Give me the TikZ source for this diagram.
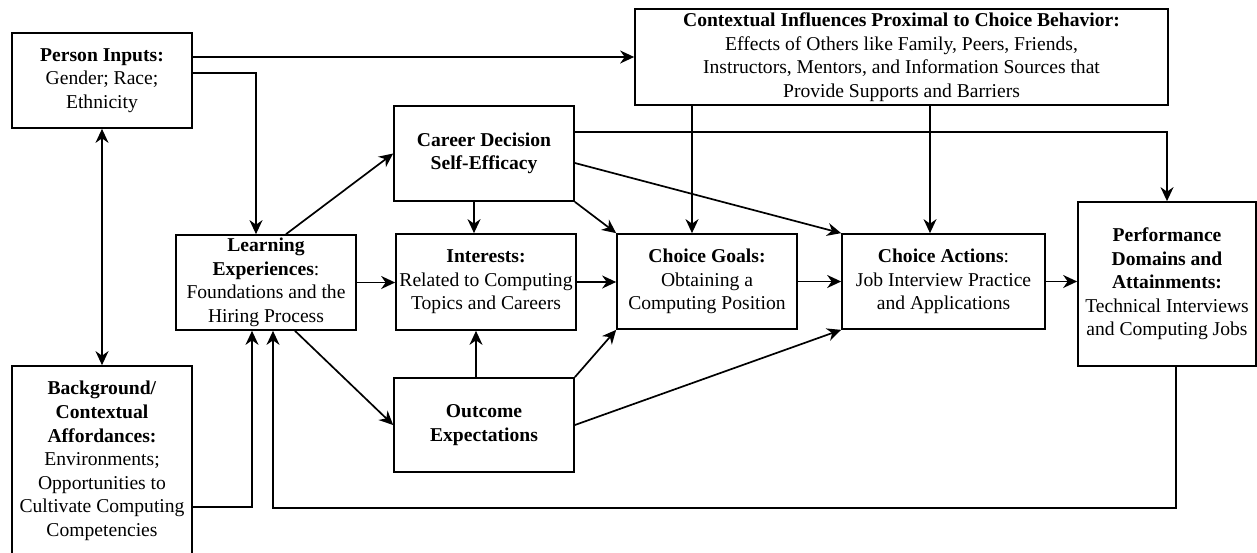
\documentclass[tikz,border=0pt]{standalone}
\usepackage{fontspec}
\setmainfont{Liberation Serif}
\usetikzlibrary{arrows.meta}
\begin{document}
\begin{tikzpicture}[x=1pt,y=-1pt,
  box/.style={draw, line width=1.7pt, rectangle, inner sep=0pt, align=center,
    font=\fontsize{19.6}{23.6}\selectfont},
  tip/.style={Stealth[length=14pt,width=13pt,inset=4.5pt]},
  conn/.style={line width=1.7pt, -{Stealth[length=14pt,width=13pt,inset=4.5pt]}},
  both/.style={line width=1.7pt, {Stealth[length=14pt,width=13pt,inset=4.5pt]}-{Stealth[length=14pt,width=13pt,inset=4.5pt]}}]
\useasboundingbox (0,0) rectangle (1257,552);
\node[box, minimum width=180pt, minimum height=95pt] (person) at (102,80.5)
  {\textbf{Person Inputs:}\\Gender; Race;\\Ethnicity};
\node[box, minimum width=180pt, minimum height=190pt] (background) at (102,461)
  {\textbf{Background/}\\\textbf{Contextual}\\\textbf{Affordances:}\\Environments;\\Opportunities to\\Cultivate Computing\\Competencies};
\node[box, minimum width=180pt, minimum height=95pt] (learn) at (266,282.5)
  {\textbf{Learning}\\\textbf{Experiences}:\\Foundations and the\\Hiring Process};
\node[box, minimum width=180pt, minimum height=95pt] (career) at (484,153.5)
  {\textbf{Career Decision}\\\textbf{Self-Efficacy}};
\node[box, minimum width=533pt, minimum height=96pt] (context) at (901.5,57)
  {\textbf{Contextual Influences Proximal to Choice Behavior:}\\Effects of Others like Family, Peers, Friends,\\Instructors, Mentors, and Information Sources that\\Provide Supports and Barriers};
\node[box, minimum width=180pt, minimum height=96pt] (interests) at (486,282)
  {\textbf{Interests:}\\Related to Computing\\Topics and Careers};
\node[box, minimum width=180pt, minimum height=95pt] (goals) at (707,281.5)
  {\textbf{Choice Goals:}\\Obtaining a\\Computing Position};
\node[box, minimum width=180pt, minimum height=94pt] (outcome) at (484,425)
  {\textbf{Outcome}\\\textbf{Expectations}};
\node[box, minimum width=203pt, minimum height=95pt] (actions) at (943.5,281.5)
  {\textbf{Choice Actions}:\\Job Interview Practice\\and Applications};
\node[box, minimum width=178pt, minimum height=164pt] (perf) at (1167,284)
  {\textbf{Performance}\\\textbf{Domains and}\\\textbf{Attainments:}\\Technical Interviews\\and Computing Jobs};

\draw[conn] ([yshift=23.5pt]person.east) -- (context.west);
\draw[conn] ([yshift=7.5pt]person.east) -| ([xshift=-10pt]learn.north);
\draw[both] (person.south) -- (background.north);
\draw[conn] ([yshift=-46pt]background.east) -| ([xshift=-14pt]learn.south);
\draw[conn] ([xshift=9pt]perf.south) -- ++(0,141) -| ([xshift=7pt]learn.south);
\draw[conn] (learn.east) -- (learn.east -| interests.west);
\draw[conn] ([xshift=20pt]learn.north) -- (career.west);
\draw[conn] ([xshift=29pt]learn.south) -- (outcome.west);
\draw[conn] ([xshift=-10pt]career.south) -- ([xshift=-12pt]interests.north);
\draw[conn] (career.south east) -- (goals.north west);
\draw[conn] ([yshift=-9.5pt]career.east) -- (actions.north west);
\draw[conn] ([yshift=21.5pt]career.east) -| (perf.north);
\draw[conn] ([xshift=-209.5pt]context.south) -- ([xshift=-15pt]goals.north);
\draw[conn] ([xshift=28.5pt]context.south) -- ([xshift=-13.5pt]actions.north);
\draw[conn] (interests.east) -- (interests.east -| goals.west);
\draw[conn] (goals.east) -- (actions.west);
\draw[conn] (actions.east) -- (actions.east -| perf.west);
\draw[conn] ([xshift=-8pt]outcome.north) -- ([xshift=-10pt]interests.south);
\draw[conn] (outcome.north east) -- (goals.south west);
\draw[conn] (outcome.east) -- (actions.south west);
\end{tikzpicture}
\end{document}
